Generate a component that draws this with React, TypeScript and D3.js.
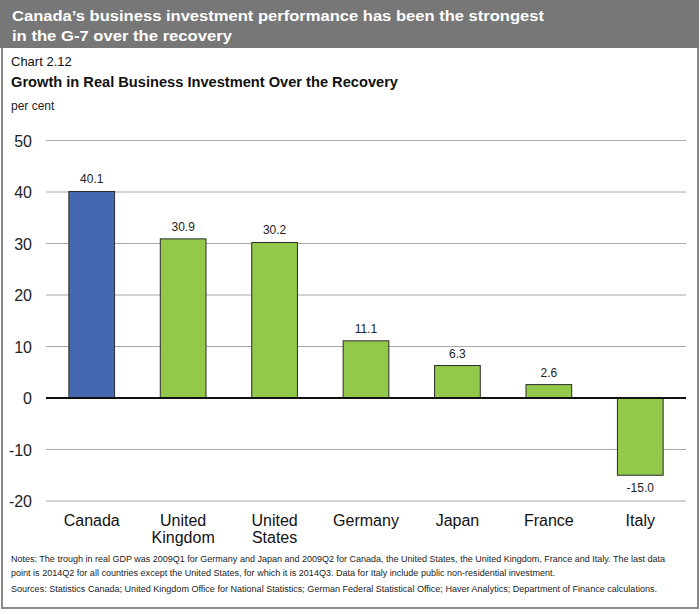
import React from "react";
import * as d3 from "d3";

const categories: string[][] = [["Canada"], ["United", "Kingdom"], ["United", "States"], ["Germany"], ["Japan"], ["France"], ["Italy"]];
const values: number[] = [40.1, 30.9, 30.2, 11.1, 6.3, 2.6, -15.0];
const yTicks: number[] = [50, 40, 30, 20, 10, 0, -10, -20];
const titleLines = ["Canada\u2019s business investment performance has been the strongest", "in the G-7 over the recovery"];
const chartNo = "Chart 2.12";
const subtitle = "Growth in Real Business Investment Over the Recovery";
const unit = "per cent";
const notes = [
  "Notes: The trough in real GDP was 2009Q1 for Germany and Japan and 2009Q2 for Canada, the United States, the United Kingdom, France and Italy. The last data",
  "point is 2014Q2 for all countries except the United States, for which it is 2014Q3. Data for Italy include public non-residential investment.",
];
const sources = "Sources: Statistics Canada; United Kingdom Office for National Statistics; German Federal Statistical Office; Haver Analytics; Department of Finance calculations.";

export default function App() {
  const W = 700, H = 614;
  const font = "'Liberation Sans', Arial, sans-serif";
  const x = d3.scaleBand<number>().domain(d3.range(values.length)).range([46, 686]).paddingInner(0.5).paddingOuter(0.25);
  const y = d3.scaleLinear().domain([-20, 50]).range([501, 140.5]);
  const fmt = (v: number) => d3.format(".1f")(v).replace("\u2212", "-");
  return (
    <svg width={W} height={H} style={{ position: "absolute", left: 0, top: 0 }} fontFamily={font}>
      <rect x={0} y={0} width={W} height={H} fill="#fff" />
      <rect x={2} y={1} width={696} height={607} fill="none" stroke="#8a8a8a" strokeWidth={2} />
      <rect x={0} y={0} width={699} height={48} fill="#777777" />
      <text x={12} y={21} fontSize={15} fontWeight="bold" fill="#fff" textLength={532} lengthAdjust="spacingAndGlyphs">{titleLines[0]}</text>
      <text x={12} y={41} fontSize={15} fontWeight="bold" fill="#fff" textLength={220} lengthAdjust="spacingAndGlyphs">{titleLines[1]}</text>
      <text x={11} y={66} fontSize={13} fill="#111">{chartNo}</text>
      <text x={11} y={87} fontSize={14} fontWeight="bold" fill="#111" textLength={387} lengthAdjust="spacingAndGlyphs">{subtitle}</text>
      <text x={11} y={110} fontSize={12} fill="#222">{unit}</text>
      {yTicks.filter((t) => t !== 0).map((t) => (
        <line key={"g" + t} x1={46} x2={686} y1={y(t)} y2={y(t)} stroke="#a8a8a8" strokeWidth={1} />
      ))}
      {yTicks.map((t) => (
        <text key={"t" + t} x={32} y={y(t) + 6} fontSize={16} textAnchor="end" fill="#222">{t}</text>
      ))}
      {values.map((v, i) => (
        <rect key={"b" + i} x={x(i)!} width={x.bandwidth()} y={y(Math.max(0, v))} height={Math.abs(y(v) - y(0))}
          fill={i === 0 ? "#4469b0" : "#92c94b"} stroke="#2a2a2a" strokeWidth={1} />
      ))}
      <line x1={46} x2={686} y1={y(0)} y2={y(0)} stroke="#111" strokeWidth={2} />
      {values.map((v, i) => (
        <text key={"v" + i} x={x(i)! + x.bandwidth() / 2} y={v >= 0 ? y(v) - 8 : y(v) + 17} fontSize={12} textAnchor="middle" fill="#222">{fmt(v)}</text>
      ))}
      {categories.map((lines, i) => (
        <text key={"c" + i} x={x(i)! + x.bandwidth() / 2} y={526} fontSize={16} textAnchor="middle" fill="#111">
          {lines.map((l, j) => (
            <tspan key={j} x={x(i)! + x.bandwidth() / 2} dy={j === 0 ? 0 : 17}>{l}</tspan>
          ))}
        </text>
      ))}
      <g fontSize={9.2} fill="#222">
        <text x={11} y={562} textLength={654} lengthAdjust="spacingAndGlyphs">{notes[0]}</text>
        <text x={11} y={576} textLength={544} lengthAdjust="spacingAndGlyphs">{notes[1]}</text>
        <text x={11} y={592} textLength={646} lengthAdjust="spacingAndGlyphs">{sources}</text>
      </g>
    </svg>
  );
}
